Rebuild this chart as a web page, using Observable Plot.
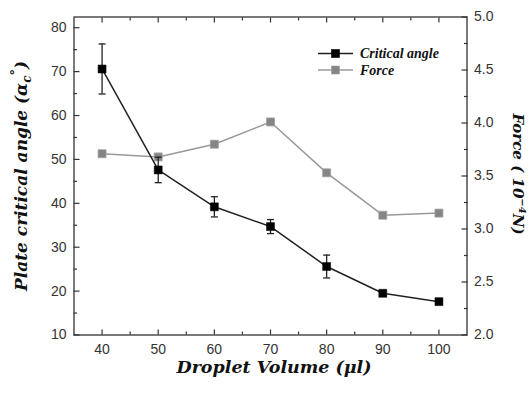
<!DOCTYPE html>
<html><head><meta charset="utf-8">
<script src="https://cdn.jsdelivr.net/npm/d3@7"></script>
<script src="https://cdn.jsdelivr.net/npm/@observablehq/plot@0.6"></script>
<style>body{margin:0;background:#fff}</style>
</head><body><div id="chart"></div>
<script>
const volumes = [40, 50, 60, 70, 80, 90, 100];
const criticalAngle = [70.6, 47.6, 39.2, 34.7, 25.6, 19.5, 17.6];
const angleError = [5.7, 2.9, 2.3, 1.6, 2.6, 0.4, 0.3];
const force = [3.71, 3.68, 3.80, 4.01, 3.53, 3.13, 3.15];
const seriesNames = ["Critical angle", "Force"];
const xTicks = [40, 50, 60, 70, 80, 90, 100];
const xMinorTicks = [45, 55, 65, 75, 85, 95];
const leftTicks = [10, 20, 30, 40, 50, 60, 70, 80];
const leftMinorTicks = [15, 25, 35, 45, 55, 65, 75];
const rightTicks = [2.0, 2.5, 3.0, 3.5, 4.0, 4.5, 5.0];
const rightMinorTicks = [2.25, 2.75, 3.25, 3.75, 4.25, 4.75];

const yDomain = [10, 82.44];
const fDomain = [2, 5];
const f2y = d3.scaleLinear(fDomain, yDomain);

const data = volumes.map((v, i) => ({
  v, a: criticalAngle[i], e: angleError[i], f: force[i], fy: f2y(force[i])
}));

const capSymbol = {draw(ctx, size) { const r = Math.sqrt(size / Math.PI); ctx.moveTo(-r, 0); ctx.lineTo(r, 0); }};
const blank = () => "";
const ink = "#222";

const plot = Plot.plot({
  width: 531, height: 394,
  marginLeft: 73.5, marginRight: 64.5, marginTop: 16.5, marginBottom: 59.5,
  x: {domain: [35, 105]},
  y: {domain: yDomain},
  style: {fontFamily: "'Liberation Sans', Arial, sans-serif", fontSize: "14px", color: "#333", background: "#fff", overflow: "visible"},
  marks: [
    // bottom axis
    Plot.axisX({anchor: "bottom", ticks: xTicks, tickSize: 0, tickPadding: 9, label: null}),
    Plot.axisX({anchor: "bottom", ticks: xTicks, tickSize: -5, tickFormat: blank, label: null, strokeWidth: 1.2}),
    Plot.axisX({anchor: "bottom", ticks: xMinorTicks, tickSize: -3, tickFormat: blank, label: null, strokeWidth: 1.2}),
    // top axis
    Plot.axisX({anchor: "top", ticks: xTicks, tickSize: -5, tickFormat: blank, label: null, strokeWidth: 1.2}),
    Plot.axisX({anchor: "top", ticks: xMinorTicks, tickSize: -3, tickFormat: blank, label: null, strokeWidth: 1.2}),
    // left axis
    Plot.axisY({anchor: "left", ticks: leftTicks, tickSize: 0, tickPadding: 7.5, label: null}),
    Plot.axisY({anchor: "left", ticks: leftTicks, tickSize: -6, tickFormat: blank, label: null, strokeWidth: 1.2}),
    Plot.axisY({anchor: "left", ticks: leftMinorTicks, tickSize: -3.5, tickFormat: blank, label: null, strokeWidth: 1.2}),
    // right axis (force scale mapped onto y)
    Plot.axisY({anchor: "right", ticks: rightTicks.map(f2y), tickSize: 0, tickPadding: 7, tickFormat: d => f2y.invert(d).toFixed(1), label: null}),
    Plot.axisY({anchor: "right", ticks: rightTicks.map(f2y), tickSize: -6, tickFormat: blank, label: null, strokeWidth: 1.2}),
    Plot.axisY({anchor: "right", ticks: rightMinorTicks.map(f2y), tickSize: -3.5, tickFormat: blank, label: null, strokeWidth: 1.2}),
    // force series
    Plot.line(data, {x: "v", y: "fy", stroke: "#999", strokeWidth: 1.5}),
    Plot.dot(data, {x: "v", y: "fy", symbol: "square", r: 4.5, fill: "#858585", stroke: "#a0a0a0", strokeWidth: 0.8}),
    // critical angle series with error bars
    Plot.ruleX(data, {x: "v", y1: d => d.a - d.e, y2: d => d.a + d.e, stroke: ink, strokeWidth: 1.3}),
    Plot.dot(data, {x: "v", y: d => d.a + d.e, symbol: capSymbol, r: 3.5, fill: "none", stroke: ink, strokeWidth: 1.3}),
    Plot.dot(data, {x: "v", y: d => d.a - d.e, symbol: capSymbol, r: 3.5, fill: "none", stroke: ink, strokeWidth: 1.3}),
    Plot.line(data, {x: "v", y: "a", stroke: ink, strokeWidth: 1.5}),
    Plot.dot(data, {x: "v", y: "a", symbol: "square", r: 4.5, fill: "#000", stroke: "#000", strokeWidth: 0.5}),
    Plot.frame({stroke: "#333", strokeWidth: 1.3})
  ]
});

const svg = d3.select(plot);
const titleFont = "'DejaVu Serif', serif";

// x title
svg.append("text").attr("x", 274).attr("y", 373).attr("text-anchor", "middle")
  .attr("font-family", titleFont).attr("font-weight", "bold").attr("font-style", "italic")
  .attr("font-size", 17.5).attr("fill", "#111")
  .text("Droplet Volume (μl)");

// left title
const lt = svg.append("text").attr("transform", "translate(27,176) rotate(-90)").attr("text-anchor", "middle")
  .attr("font-family", titleFont).attr("font-weight", "bold").attr("font-style", "italic")
  .attr("font-size", 17).attr("fill", "#111");
lt.append("tspan").text("Plate critical angle (α");
lt.append("tspan").attr("font-size", 12).attr("dy", 4).text("c");
lt.append("tspan").attr("font-size", 13).attr("dy", -11).text("°");
lt.append("tspan").attr("dy", 7).text(")");

// right title
const rt = svg.append("text").attr("transform", "translate(513,174) rotate(90)").attr("text-anchor", "middle")
  .attr("font-family", titleFont).attr("font-weight", "bold").attr("font-style", "italic")
  .attr("font-size", 15).attr("fill", "#111");
rt.append("tspan").text("Force ( 10");
rt.append("tspan").attr("font-size", 10).attr("dy", -6).text("−4");
rt.append("tspan").attr("dy", 6).text("N)");

// legend
const legendItems = [
  {name: seriesNames[0], stroke: ink, fill: "#000", sq: "#000"},
  {name: seriesNames[1], stroke: "#999", fill: "#858585", sq: "#a0a0a0"}
];
legendItems.forEach((it, i) => {
  const y = 53.5 + i * 16.5;
  const g = svg.append("g");
  g.append("line").attr("x1", 318).attr("x2", 353).attr("y1", y).attr("y2", y).attr("stroke", it.stroke).attr("stroke-width", 1.5);
  g.append("rect").attr("x", 335.5 - 4).attr("y", y - 4).attr("width", 8).attr("height", 8).attr("fill", it.fill).attr("stroke", it.sq).attr("stroke-width", 0.6);
  g.append("text").attr("x", 360).attr("y", y + 4.5).attr("text-anchor", "start").attr("font-family", "'Liberation Serif', serif")
    .attr("font-weight", "bold").attr("font-style", "italic").attr("font-size", 14).attr("fill", "#111").text(it.name);
});

document.getElementById("chart").append(plot);
</script>
</body></html>
